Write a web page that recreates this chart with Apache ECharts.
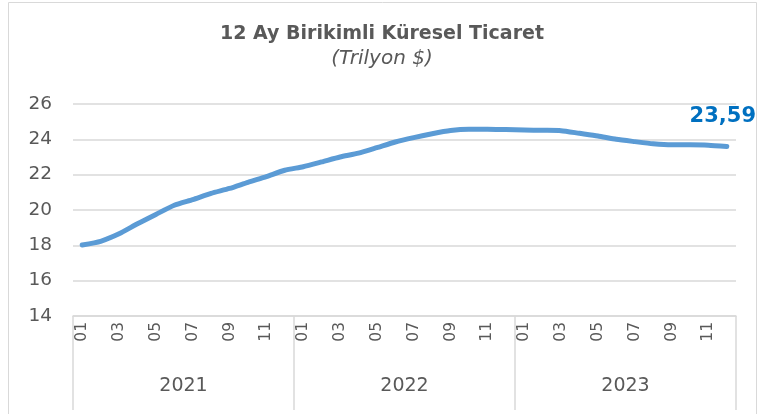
<!DOCTYPE html>
<html>
<head>
<meta charset="utf-8">
<script src="https://cdn.jsdelivr.net/npm/echarts@6/dist/echarts.min.js"></script>
<style>
html, body { margin: 0; padding: 0; background: #fff; }
#chart { width: 764px; height: 414px; }
</style>
</head>
<body>
<div id="chart"></div>
<script>
// ay etiketleri (her yıl için 01..12)
var months = ['01','02','03','04','05','06','07','08','09','10','11','12'];
var years = ['2021', '2022', '2023'];
// 12 ay birikimli küresel ticaret, trilyon $
var trade2021 = [18.02, 18.23, 18.65, 19.22, 19.75, 20.27, 20.59, 20.94, 21.22, 21.57, 21.89, 22.25];
var trade2022 = [22.45, 22.72, 23.00, 23.22, 23.53, 23.85, 24.10, 24.32, 24.50, 24.57, 24.57, 24.55];
var trade2023 = [24.53, 24.51, 24.49, 24.34, 24.19, 24.00, 23.87, 23.75, 23.69, 23.69, 23.67, 23.59];
var yTicks = { min: 14, max: 26, step: 2 };

var categories = [];
years.forEach(function () { categories = categories.concat(months); });
var values = trade2021.concat(trade2022, trade2023);

var grey = '#595959';
var lineGrey = '#d9d9d9';

// sadece son noktaya etiket
var seriesData = values.map(function (v, i) {
  if (i === values.length - 1) {
    return {
      value: v,
      label: {
        show: true,
        position: 'top',
        distance: 20,
        offset: [-4, 0],
        formatter: function (p) { return p.value.toFixed(2).replace('.', ','); },
        color: '#0070C0',
        fontFamily: 'DejaVu Sans',
        fontWeight: 'bold',
        fontSize: 21
      }
    };
  }
  return v;
});

var myChart = echarts.init(document.getElementById('chart'));
myChart.setOption({
  animation: false,
  title: {
    text: '12 Ay Birikimli Küresel Ticaret',
    subtext: '(Trilyon $)',
    left: 'center',
    top: 20,
    itemGap: 5,
    textStyle: {
      color: grey,
      fontFamily: 'DejaVu Sans',
      fontWeight: 'bold',
      fontSize: 19
    },
    subtextStyle: {
      color: grey,
      fontFamily: 'DejaVu Sans',
      fontStyle: 'italic',
      fontSize: 20
    }
  },
  graphic: [{
    type: 'rect',
    silent: true,
    shape: { x: 8.5, y: 2.5, width: 748, height: 430 },
    style: { fill: 'none', stroke: lineGrey, lineWidth: 1 }
  }],
  grid: { left: 73, right: 28, top: 104, bottom: 98 },
  xAxis: [{
    type: 'category',
    data: categories,
    axisLine: { lineStyle: { color: lineGrey, width: 1.5 } },
    axisTick: { show: false },
    axisLabel: {
      interval: 1,
      rotate: 90,
      margin: 6,
      color: grey,
      fontFamily: 'DejaVu Sans',
      fontSize: 15.5
    }
  }, {
    type: 'category',
    data: years,
    position: 'bottom',
    axisLine: { show: false },
    axisTick: { show: true, length: 94, lineStyle: { color: lineGrey, width: 1.5 } },
    axisLabel: {
      margin: 61,
      color: grey,
      fontFamily: 'DejaVu Sans',
      fontSize: 19
    }
  }],
  yAxis: {
    type: 'value',
    min: yTicks.min,
    max: yTicks.max,
    interval: yTicks.step,
    axisLine: { show: false },
    axisTick: { show: false },
    splitLine: { lineStyle: { color: lineGrey, width: 1.5 } },
    axisLabel: {
      margin: 21,
      color: grey,
      fontFamily: 'DejaVu Sans',
      fontSize: 18.5
    }
  },
  series: [{
    type: 'line',
    data: seriesData,
    smooth: 0.2,
    symbol: 'circle',
    symbolSize: 0,
    showSymbol: true,
    lineStyle: { color: '#5B9BD5', width: 5, cap: 'round' }
  }]
});
</script>
</body>
</html>
